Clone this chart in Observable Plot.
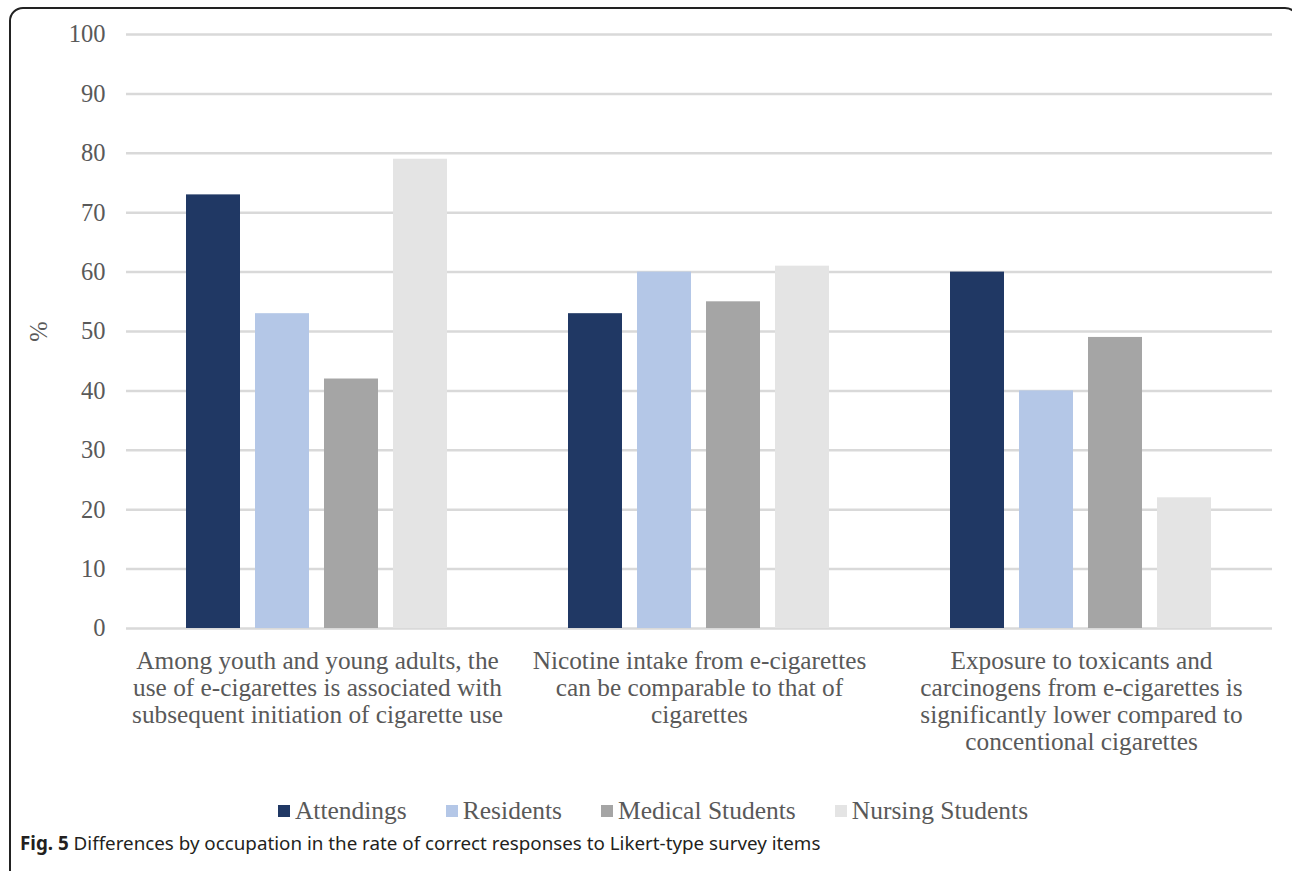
<!DOCTYPE html>
<html>
<head>
<meta charset="utf-8">
<script src="https://cdn.jsdelivr.net/npm/d3@7"></script>
<script src="https://cdn.jsdelivr.net/npm/@observablehq/plot@0.6"></script>
<style>
  html, body { margin: 0; padding: 0; background: #fff; }
  body { width: 1292px; height: 871px; position: relative; overflow: hidden; }
  #frame { position: absolute; left: 9px; top: 7px; width: 1290px; height: 900px; border: 2px solid #222; border-radius: 14px; box-sizing: border-box; }
  #chart { position: absolute; left: 10px; top: 10px; }
  #legend { position: absolute; left: 0; width: 1306px; top: 796px; display: flex; justify-content: center; gap: 39px; font-family: "Liberation Serif", serif; font-size: 25.5px; color: #595959; }
  #legend .item { display: flex; align-items: center; }
  #legend .sw { width: 12px; height: 12px; margin-right: 5px; display: inline-block; }
  #caption { position: absolute; left: 20px; top: 830px; font-family: "Noto Sans", sans-serif; font-size: 18.8px; color: #231f20; white-space: nowrap; }
</style>
</head>
<body>
<div id="frame"></div>
<div id="chart"></div>
<div id="legend"></div>
<div id="caption"><b>Fig. 5</b> Differences by occupation in the rate of correct responses to Likert-type survey items</div>
<script>
const questions = [
  "Among youth and young adults, the\nuse of e-cigarettes is associated with\nsubsequent initiation of cigarette use",
  "Nicotine intake from e-cigarettes\ncan be comparable to that of\ncigarettes",
  "Exposure to toxicants and\ncarcinogens from e-cigarettes is\nsignificantly lower compared to\nconcentional cigarettes"
];
const groups = ["Attendings", "Residents", "Medical Students", "Nursing Students"];
const attendings = [73, 53, 60];
const residents = [53, 60, 40];
const medicalStudents = [42, 55, 49];
const nursingStudents = [79, 61, 22];
const colors = ["#203864", "#b4c7e7", "#a5a5a5", "#e4e4e4"];
const yTicks = [0, 10, 20, 30, 40, 50, 60, 70, 80, 90, 100];

const series = [attendings, residents, medicalStudents, nursingStudents];
const data = [];
questions.forEach((q, i) => {
  groups.forEach((g, j) => data.push({question: q, group: g, value: series[j][i]}));
});

const chart = Plot.plot({
  width: 1280,
  height: 770,
  marginLeft: 115,
  marginRight: 17,
  marginTop: 24,
  marginBottom: 152,
  style: {fontFamily: "Liberation Serif, serif", fontSize: "22px", color: "#595959", background: "transparent"},
  fx: {domain: questions, padding: 0, label: null},
  x: {domain: groups, paddingInner: 0.216, paddingOuter: 0.856, axis: null},
  y: {domain: [0, 100], label: null},
  color: {domain: groups, range: colors},
  marks: [
    Plot.gridY(yTicks, {stroke: "#d9d9d9", strokeOpacity: 1, strokeWidth: 2.5}),
    Plot.axisY(yTicks, {tickSize: 0, tickPadding: 21, fontSize: 24.5, label: "%", labelAnchor: "center", labelOffset: 97, labelArrow: "none"}),
    Plot.axisFx({anchor: "bottom", tickSize: 0, tickPadding: 21, fontSize: 25.3, lineHeight: 1.067, label: null}),
    Plot.barY(data, {fx: "question", x: "group", y: "value", fill: "group"})
  ]
});
document.getElementById("chart").appendChild(chart);

const legend = document.getElementById("legend");
groups.forEach((g, j) => {
  const item = document.createElement("div");
  item.className = "item";
  const sw = document.createElement("span");
  sw.className = "sw";
  sw.style.background = colors[j];
  item.appendChild(sw);
  item.appendChild(document.createTextNode(g));
  legend.appendChild(item);
});
</script>
</body>
</html>
